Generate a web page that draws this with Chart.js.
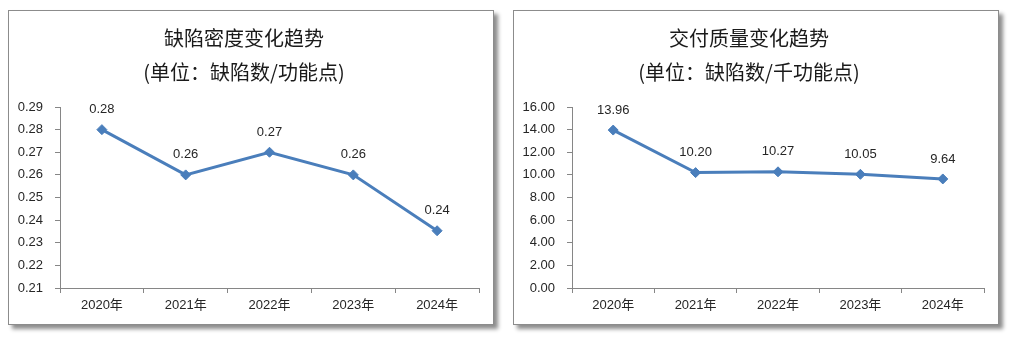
<!DOCTYPE html>
<html>
<head>
<meta charset="utf-8">
<script src="https://cdn.jsdelivr.net/npm/chart.js@4/dist/chart.umd.min.js"></script>
<style>
  html, body { margin: 0; padding: 0; background: #ffffff; width: 1011px; height: 340px; overflow: hidden; }
  .panel { position: absolute; top: 10px; width: 486px; height: 315px; box-sizing: border-box;
           border: 1px solid #8c8c8c; background: #fff; box-shadow: 4px 4px 4px rgba(0,0,0,0.45); }
  .panel canvas { display: block; }
  #p1 { left: 8px; }
  #p2 { left: 513px; }
</style>
</head>
<body>
<div class="panel" id="p1"><canvas id="c1" width="484" height="313"></canvas></div>
<div class="panel" id="p2"><canvas id="c2" width="484" height="313"></canvas></div>
<script>
const categories = ['2020年', '2021年', '2022年', '2023年', '2024年'];
const densityValues = [0.28, 0.26, 0.27, 0.26, 0.2353];
const qualityValues = [13.96, 10.20, 10.27, 10.05, 9.64];
const densityTitle = ['缺陷密度变化趋势', '(单位：缺陷数/功能点)'];
const qualityTitle = ['交付质量变化趋势', '(单位：缺陷数/千功能点)'];

const LINE_COLOR = '#4A7EBB';
const AXIS_COLOR = '#868686';
const TEXT_COLOR = '#262626';
const NUM_FONT = '"Liberation Sans", "Noto Sans CJK SC", sans-serif';
const CJK_FONT = '"Noto Sans CJK SC", sans-serif';

const dataLabelPlugin = {
  id: 'dataLabels',
  afterDatasetsDraw(chart) {
    const ctx = chart.ctx;
    ctx.save();
    ctx.font = '13px ' + NUM_FONT;
    ctx.fillStyle = TEXT_COLOR;
    ctx.textAlign = 'center';
    ctx.textBaseline = 'middle';
    chart.data.datasets.forEach((ds, di) => {
      const meta = chart.getDatasetMeta(di);
      meta.data.forEach((pt, i) => {
        ctx.fillText(Number(ds.data[i]).toFixed(2), pt.x, pt.y - 20);
      });
    });
    ctx.restore();
  }
};

function makeChart(id, values, title, yMin, yMax, yStep, axisX) {
  return new Chart(document.getElementById(id), {
    type: 'line',
    data: {
      labels: categories,
      datasets: [{
        data: values,
        borderColor: LINE_COLOR,
        backgroundColor: LINE_COLOR,
        borderWidth: 3,
        pointStyle: 'rectRot',
        pointRadius: 5,
        pointHoverRadius: 5,
        pointBorderWidth: 1,
        tension: 0
      }]
    },
    options: {
      responsive: false,
      animation: false,
      events: [],
      layout: { padding: { left: 0, right: 14, top: 0, bottom: 0 } },
      plugins: {
        legend: { display: false },
        tooltip: { enabled: false },
        title: {
          display: true,
          text: title,
          color: '#1a1a1a',
          font: { family: CJK_FONT, size: 20, weight: 'normal', lineHeight: '34px' },
          padding: { top: 10, bottom: 18 }
        }
      },
      scales: {
        x: {
          type: 'category',
          offset: true,
          afterFit(scale) { scale.height = 36; },
          border: { display: true, color: AXIS_COLOR, width: 1 },
          grid: { offset: true, drawOnChartArea: false, drawTicks: true, tickLength: 5, color: AXIS_COLOR },
          ticks: { color: TEXT_COLOR, font: { family: NUM_FONT, size: 13 }, padding: 5, maxRotation: 0 }
        },
        y: {
          min: yMin,
          max: yMax,
          afterFit(scale) { scale.width = axisX; },
          afterBuildTicks(scale) {
            const t = [];
            const n = Math.round((yMax - yMin) / yStep);
            for (let i = 0; i <= n; i++) t.push({ value: +(yMin + i * yStep).toFixed(4) });
            scale.ticks = t;
          },
          border: { display: true, color: AXIS_COLOR, width: 1 },
          grid: { drawOnChartArea: false, drawTicks: true, tickLength: 5, color: AXIS_COLOR },
          ticks: {
            color: TEXT_COLOR,
            font: { family: NUM_FONT, size: 13 },
            padding: 12,
            callback: (v) => Number(v).toFixed(2)
          }
        }
      }
    },
    plugins: [dataLabelPlugin]
  });
}

makeChart('c1', densityValues, densityTitle, 0.21, 0.29, 0.01, 51);
makeChart('c2', qualityValues, qualityTitle, 0, 16, 2, 58);
</script>
</body>
</html>
